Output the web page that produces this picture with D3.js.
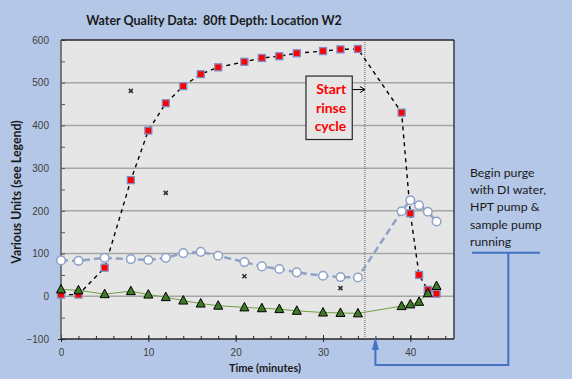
<!DOCTYPE html>
<html><head><meta charset="utf-8">
<script src="https://cdn.jsdelivr.net/npm/d3@7"></script>
<style>
html,body{margin:0;padding:0;background:#b4c7e7;}
svg{display:block;font-family:"Lato","Liberation Sans",sans-serif;}
text{white-space:pre;}
</style></head>
<body>
<svg id="c" width="572" height="379"></svg>
<script>
// ---- data ----
const timeA = [0,2,5,8,10,12,14,16,18,21,23,25,27,30,32,34,39,40,41,42,43];
const seriesSquares = [4,4,67,272,388,452,492,520,536,549,558,562,569,574,578,579,430,194,50,15,6];
const seriesCircles = [84,83,90,87,85,90,101,104,95,80,70,64,56,48,45,44,199,225,213,198,175];
const seriesTriangles = [16,14,5,12,4,-2,-10,-17,-22,-26,-28,-30,-34,-38,-39,-40,-23,-19,-13,7,24];
const timeX = [8,12,21,32,34];
const seriesX = [481,242,47,19,42];
const yTicks = [-100,0,100,200,300,400,500,600];
const xTicks = [0,10,20,30,40];
const rinseStart = 34.8;
const purgeTime = 36;
const titleText = "Water Quality Data:  80ft Depth: Location W2";
const yLabel = "Various Units (see Legend)";
const xLabel = "Time (minutes)";
const rinseLines = ["Start","rinse","cycle"];
const purgeLines = ["Begin purge","with DI water,","HPT pump &","sample pump","running"];

const svg = d3.select("#c");
const L=61,R=454,T=40,B=339;
const x = d3.scaleLinear().domain([0,45]).range([L,R]);
const y = d3.scaleLinear().domain([-100,600]).range([B,T]);

// plot bg
svg.append("rect").attr("x",L).attr("y",T).attr("width",R-L).attr("height",B-T).attr("fill","#e6e6e6");
// gridlines
svg.append("g").selectAll("line").data(yTicks.filter(d=>d>-100&&d<600)).join("line")
  .attr("x1",L).attr("x2",R).attr("y1",d=>y(d)).attr("y2",d=>y(d))
  .attr("stroke","#a6a6a6").attr("stroke-width",1.5);

// axes
const yAxis = d3.axisLeft(y).tickValues(yTicks).tickSize(0).tickPadding(12);
const gy = svg.append("g").attr("transform",`translate(${L},0)`).call(yAxis);
gy.select(".domain").remove();
gy.selectAll("text").attr("font-size",10).attr("fill","#404040");
const gym = svg.append("g").attr("transform",`translate(${L},0)`)
  .call(d3.axisRight(y).tickValues(d3.range(-100,601,50)).tickSize(4).tickFormat(""));
gym.select(".domain").remove();
gym.selectAll("line").attr("stroke","#595959");

const xAxis = d3.axisBottom(x).tickValues(xTicks).tickSize(0).tickPadding(10);
const gx = svg.append("g").attr("transform",`translate(0,${B})`).call(xAxis);
gx.select(".domain").remove();
gx.selectAll("text").attr("font-size",10).attr("fill","#404040");
const gxm = svg.append("g").attr("transform",`translate(0,${B})`)
  .call(d3.axisTop(x).tickValues(d3.range(0,46,2)).tickSize(3).tickFormat(""));
gxm.select(".domain").remove();
gxm.selectAll("line").attr("stroke","#262626");
const gxM = svg.append("g").attr("transform",`translate(0,${B+3})`)
  .call(d3.axisTop(x).tickValues(d3.range(0,46,10)).tickSize(7).tickFormat(""));
gxM.select(".domain").remove();
gxM.selectAll("line").attr("stroke","#262626");
const gyM = svg.append("g").attr("transform",`translate(${L-3},0)`)
  .call(d3.axisRight(y).tickValues([-100]).tickSize(7).tickFormat(""));
gyM.select(".domain").remove();
gyM.selectAll("line").attr("stroke","#262626");

// border
svg.append("line").attr("x1",L).attr("x2",R).attr("y1",T).attr("y2",T).attr("stroke","#262626").attr("stroke-width",1.3);
svg.append("line").attr("x1",R).attr("x2",R).attr("y1",T).attr("y2",B).attr("stroke","#262626").attr("stroke-width",1.3);
svg.append("line").attr("x1",L).attr("x2",L).attr("y1",T).attr("y2",B).attr("stroke","#595959").attr("stroke-width",1.5);
svg.append("line").attr("x1",L).attr("x2",R).attr("y1",B).attr("y2",B).attr("stroke","#262626").attr("stroke-width",1.5);

// rinse dotted line
svg.append("line").attr("x1",x(rinseStart)).attr("x2",x(rinseStart)).attr("y1",T).attr("y2",B)
  .attr("stroke","#606060").attr("stroke-width",1).attr("stroke-dasharray","1,1");

// lines
const line = (vals)=>d3.line().x((d,i)=>x(timeA[i])).y(d=>y(d))(vals);
svg.append("path").attr("d",line(seriesTriangles)).attr("fill","none").attr("stroke","#70a040").attr("stroke-width",1);
svg.append("path").attr("d",line(seriesCircles)).attr("fill","none").attr("stroke","#8ea2c6").attr("stroke-width",2.5).attr("stroke-dasharray","7,4");
svg.append("path").attr("d",line(seriesSquares)).attr("fill","none").attr("stroke","#000").attr("stroke-width",1.4).attr("stroke-dasharray","4,4");

// markers
svg.append("g").selectAll("path").data(seriesX).join("path")
  .attr("transform",(d,i)=>`translate(${x(timeX[i])},${y(d)})`)
  .attr("d","M-2,-2L2,2M-2,2L2,-2").attr("stroke","#303030").attr("stroke-width",1.6);
svg.append("g").selectAll("circle").data(seriesCircles).join("circle")
  .attr("cx",(d,i)=>x(timeA[i])).attr("cy",d=>y(d)).attr("r",4.3)
  .attr("fill","#fff").attr("stroke","#8ea2c6").attr("stroke-width",1.5);
svg.append("g").selectAll("rect").data(seriesSquares).join("rect")
  .attr("x",(d,i)=>x(timeA[i])-3.5).attr("y",d=>y(d)-3.5).attr("width",7).attr("height",7)
  .attr("fill","#ff0000").attr("stroke","#7f8fc6").attr("stroke-width",1.3);
svg.append("g").selectAll("path").data(seriesTriangles).join("path")
  .attr("transform",(d,i)=>`translate(${x(timeA[i])},${y(d)})`)
  .attr("d","M0,-5L4.5,3.5L-4.5,3.5Z").attr("fill","#3f7a28").attr("stroke","#000").attr("stroke-width",1);

// rinse annotation
const bx0=x(28.05), bx1=x(33.35), by0=y(515.6), by1=y(367);
svg.append("rect").attr("x",bx0).attr("y",by0).attr("width",bx1-bx0).attr("height",by1-by0)
  .attr("fill","#e6e6e6").attr("stroke","#262626").attr("stroke-width",1.2);
svg.append("g").selectAll("text").data(rinseLines).join("text")
  .attr("x",bx1-6).attr("y",(d,i)=>by0+18.3+i*18.4).attr("text-anchor","end")
  .attr("font-size",14).attr("font-weight","bold").attr("fill","#ff0000").text(d=>d);
const ay=y(484);
svg.append("line").attr("x1",bx1).attr("x2",x(rinseStart)).attr("y1",ay).attr("y2",ay).attr("stroke","#000").attr("stroke-width",1);
svg.append("path").attr("d",`M${x(rinseStart)-5},${ay-3}L${x(rinseStart)},${ay}L${x(rinseStart)-5},${ay+3}`)
  .attr("fill","none").attr("stroke","#000").attr("stroke-width",1);

// purge annotation
svg.append("g").selectAll("text").data(purgeLines).join("text")
  .attr("x",470).attr("y",(d,i)=>177+i*17.2).attr("font-size",12.3).attr("fill","#1a1a1a").text(d=>d);
const blue="#4472c4";
svg.append("line").attr("x1",472).attr("x2",540).attr("y1",252.7).attr("y2",252.7).attr("stroke",blue).attr("stroke-width",2);
svg.append("path").attr("d",`M508.3,252.7V365H${x(purgeTime)}V${B+10}`).attr("fill","none").attr("stroke",blue).attr("stroke-width",2);
svg.append("path").attr("d",`M${x(purgeTime)-3.5},${B+11}L${x(purgeTime)},${B-2}L${x(purgeTime)+3.5},${B+11}Z`)
  .attr("fill",blue);

// titles
svg.append("text").attr("x",214).attr("y",25).attr("text-anchor","middle").attr("font-size",12.5).attr("font-weight","bold").attr("fill","#1a1a1a").text(titleText);
svg.append("text").attr("transform",`translate(21,192) rotate(-90)`).attr("text-anchor","middle").attr("font-size",12.3).attr("font-weight","bold").attr("fill","#1a1a1a").text(yLabel);
svg.append("text").attr("x",265).attr("y",372).attr("text-anchor","middle").attr("font-size",11).attr("font-weight","bold").attr("fill","#1a1a1a").text(xLabel);
</script>
</body></html>
